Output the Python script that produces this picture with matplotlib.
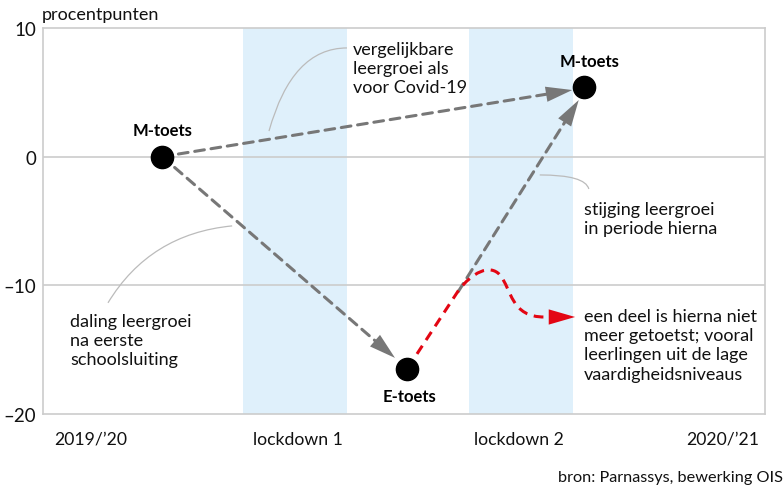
import matplotlib
matplotlib.use("Agg")
import matplotlib.pyplot as plt
from matplotlib.path import Path
from matplotlib.patches import PathPatch

plt.rcParams['font.family'] = ['Lato', 'DejaVu Sans']

# ---- data ----
point_labels = ["M-toets", "E-toets", "M-toets"]
point_x = [16.5, 50.4, 74.9]          # time axis (0..100)
point_y = [0.0, -16.5, 5.4]           # procentpunten
lockdowns = [(27.7, 42.1), (59.0, 73.4)]
xtick_pos = [6.6, 35.3, 65.9, 94.2]
xtick_labels = ["2019/\u201920", "lockdown 1", "lockdown 2", "2020/\u201921"]
ytick_pos = [10, 0, -10, -20]
ytick_labels = ["10", "0", "\u201310", "\u201320"]

GRAY = "#777777"
RED = "#e30613"
LIGHT = "#cccccc"
BLUE = "#dff0fb"

fig = plt.figure(figsize=(7.84, 4.89), dpi=100)
ax = fig.add_axes([43/784, 1-415/489, (765-43)/784, (415-29)/489])
ax.set_xlim(0, 100)
ax.set_ylim(-20, 10)

for a, b in lockdowns:
    ax.axvspan(a, b, color=BLUE, lw=0, zorder=0)

for y in [0, -10]:
    ax.axhline(y, color=LIGHT, lw=1.2, zorder=1)
for s in ax.spines.values():
    s.set_color(LIGHT)
    s.set_linewidth(1.2)

ax.set_xticks(xtick_pos)
ax.set_xticklabels(xtick_labels, fontsize=12.7)
ax.set_yticks(ytick_pos)
ax.set_yticklabels(ytick_labels, fontsize=13.5)
ax.tick_params(axis='both', length=0, colors='#111111')
ax.tick_params(axis='x', pad=12)
ax.tick_params(axis='y', pad=5)

fig.text(42/784, 1-15/489, "procentpunten", fontsize=13, ha='left', va='center',
         color='#111111')
fig.text(783/784, 1-478/489, "bron: Parnassys, bewerking OIS", fontsize=11.7,
         ha='right', va='center', color='#111111')

# ---- arrows (gray dashed) ----
def dashed_arrow(x0, y0, x1, y1, color):
    ax.annotate("", xy=(x1, y1), xytext=(x0, y0),
                arrowprops=dict(arrowstyle="-", color=color, lw=2.2,
                                linestyle=(0, (3.2, 2.2)), shrinkA=0, shrinkB=16),
                zorder=3)
    ax.annotate("", xy=(x1, y1), xytext=(x0, y0),
                arrowprops=dict(arrowstyle="-|>,head_length=1.9,head_width=0.55",
                                color=color, lw=0, shrinkA=0, shrinkB=0),
                zorder=3)

M1 = (point_x[0], point_y[0])
E = (point_x[1], point_y[1])
M2 = (point_x[2], point_y[2])
dashed_arrow(M1[0], M1[1], 73.3, 5.18, GRAY)
dashed_arrow(M1[0], M1[1], 48.75, -15.64, GRAY)
dashed_arrow(57.5, -10.5, 74.2, 4.4, GRAY)

# ---- red path ----
verts = [(51.8, -15.33), (57.5, -10.44),
         (59.4, -9.0), (61.9, -8.3), (63.3, -9.2),
         (64.9, -10.3), (64.8, -12.5), (69.5, -12.46)]
codes = [Path.MOVETO, Path.LINETO,
         Path.CURVE4, Path.CURVE4, Path.CURVE4,
         Path.CURVE4, Path.CURVE4, Path.CURVE4]
ax.add_patch(PathPatch(Path(verts, codes), fill=False, edgecolor=RED, lw=2.2,
                       linestyle=(0, (3.2, 2.2)), zorder=3))
ax.annotate("", xy=(73.7, -12.46), xytext=(69.0, -12.46),
            arrowprops=dict(arrowstyle="-|>,head_length=1.9,head_width=0.55",
                            color=RED, lw=0, shrinkA=0, shrinkB=0), zorder=3)

# ---- points ----
ax.plot(point_x, point_y, 'o', color='black', markersize=16, zorder=5, clip_on=False)
bk = dict(fontsize=12, fontweight='bold', ha='center', va='center', color='black')
ax.text(M1[0], 2.1, point_labels[0], **bk)
ax.text(E[0] + 0.3, -18.6, point_labels[1], **bk)
ax.text(M2[0] + 0.8, 7.4, point_labels[2], **bk)

# ---- annotation connectors ----
def connector(p0, c, p1):
    ax.add_patch(PathPatch(Path([p0, c, p1], [Path.MOVETO, Path.CURVE3, Path.CURVE3]),
                           fill=False, edgecolor="#bbbbbb", lw=0.9, zorder=2))

connector((31.3, 1.99), (34.5, 8.45), (42.1, 8.45))
connector((9.0, -11.36), (14.8, -6.0), (26.2, -5.38))
connector((68.8, -1.42), (75.1, -1.42), (75.6, -2.51))

tk = dict(fontsize=13, ha='left', va='top', linespacing=1.25, color='#111111')
ax.text((353-43)/7.22, (157.7-42)/12.87, "vergelijkbare\nleergroei als\nvoor Covid-19", **tk)
ax.text((70-43)/7.22, (157.7-314)/12.87, "daling leergroei\nna eerste\nschoolsluiting", **tk)
ax.text((584-43)/7.22, (157.7-202)/12.87, "stijging leergroei\nin periode hierna", **tk)
ax.text((584-43)/7.22, (157.7-309)/12.87,
        "een deel is hierna niet\nmeer getoetst; vooral\nleerlingen uit de lage\nvaardigheidsniveaus", **tk)

fig.savefig("out.png", dpi=100)
